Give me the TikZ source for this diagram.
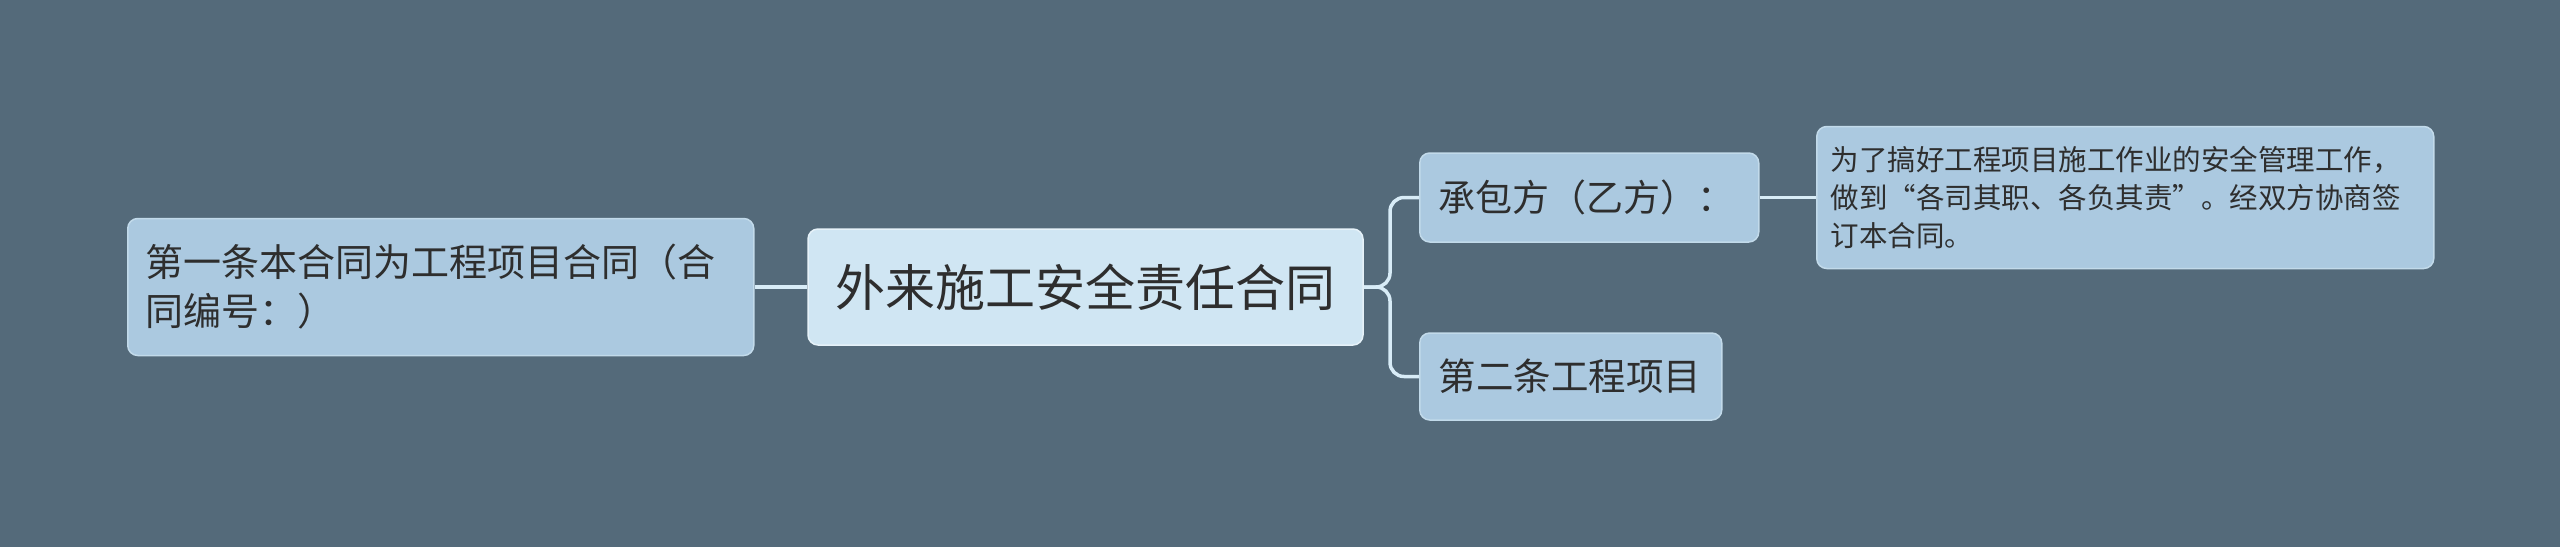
\documentclass[tikz,border=0pt]{standalone}
\usepackage{fontspec}
\setmainfont{Noto Sans CJK SC}
\definecolor{bg}{HTML}{546A7A}
\definecolor{leaffill}{HTML}{ABC9E0}
\definecolor{leafline}{HTML}{C2DAEA}
\definecolor{rootfill}{HTML}{D0E6F3}
\definecolor{rootline}{HTML}{E6F2F9}
\definecolor{conncol}{HTML}{D8ECF7}
\definecolor{txt}{HTML}{2E2E2E}
\begin{document}
\begin{tikzpicture}[x=1pt,y=-1pt,
  box/.style={draw=leafline, fill=leaffill, line width=1.5pt, rounded corners=10pt,
    text=txt, inner ysep=0pt, align=left},
  rootbox/.style={box, draw=rootline, fill=rootfill},
  conn/.style={draw=conncol, line width=3.5pt, rounded corners=14pt}]
\useasboundingbox[fill=bg] (0,0) rectangle (2560,547);

\node[rootbox, minimum width=555pt, minimum height=116pt, inner xsep=25pt,
  font=\fontsize{50pt}{60pt}\selectfont] (root) at (1085.5,287) {外来施工安全责任合同};

\node[box, anchor=west, minimum height=137pt, text width=590pt, inner xsep=18pt,
  font=\fontsize{38pt}{49pt}\selectfont] (left) at (127,287)
  {第一条本合同为工程项目合同（合\\同编号：）};

\node[box, anchor=west, minimum height=89pt, text width=301pt, inner xsep=19pt,
  font=\fontsize{37pt}{45pt}\selectfont] (c1) at (1419,197.5) {承包方（乙方）：};

\node[box, anchor=west, minimum height=87pt, text width=264pt, inner xsep=19pt,
  font=\fontsize{37.5pt}{45pt}\selectfont] (c2) at (1419,376.5) {第二条工程项目};

\node[box, anchor=west, minimum height=142pt, text width=589pt, inner xsep=14pt,
  font=\fontsize{28.5pt}{38pt}\selectfont] (r1) at (1816,197.5)
  {为了搞好工程项目施工作业的安全管理工作，\\做到“各司其职、各负其责”。经双方协商签\\订本合同。};

\coordinate (br) at (1390,287);
\draw[conn] (left.east) -- (root.west);
\draw[conn] (root.east) -- (br) |- (c1.west);
\draw[conn] (root.east) -- (br) |- (c2.west);
\draw[conn] (c1.east) -- (r1.west);
\end{tikzpicture}
\end{document}
